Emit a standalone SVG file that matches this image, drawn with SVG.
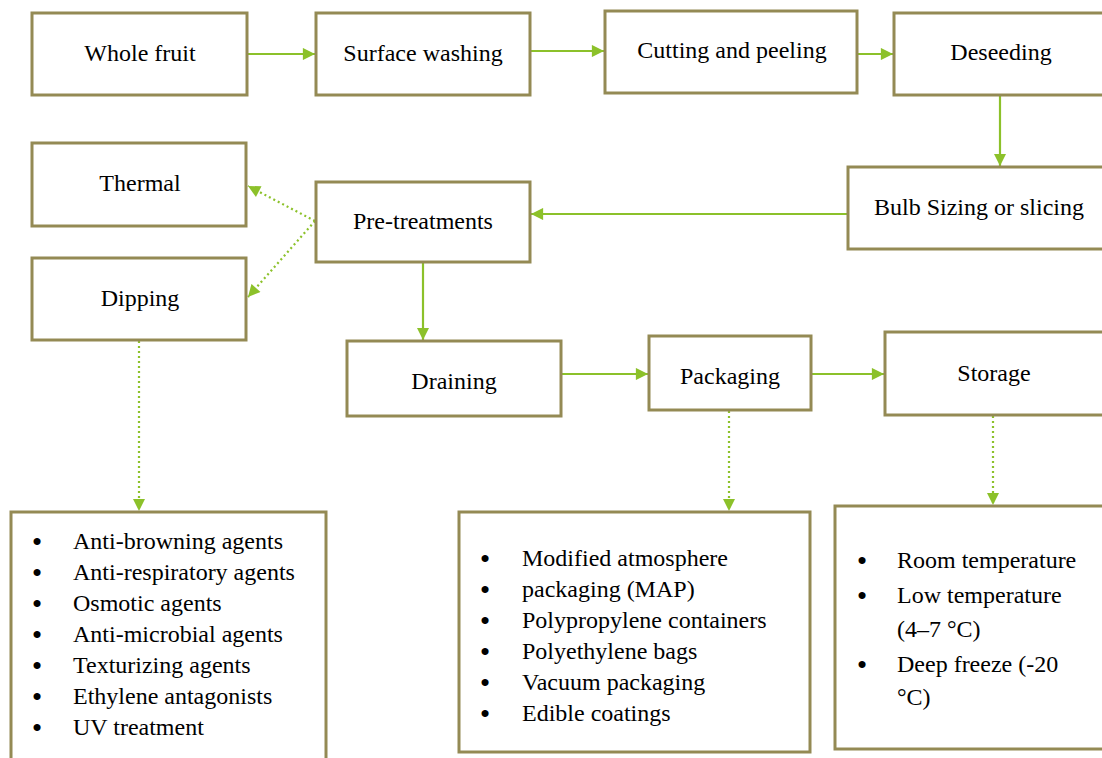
<svg xmlns="http://www.w3.org/2000/svg" width="1102" height="758" viewBox="0 0 1102 758">
<style>
.box{fill:#fff;stroke:#948a54;stroke-width:3}
text{font-family:'Liberation Serif','DejaVu Serif','Times New Roman',serif;font-size:24px;fill:#000}
.c{text-anchor:middle}
.b{font-size:26px;font-weight:bold;text-anchor:middle}
.ln{stroke:#8cc12a;stroke-width:2.2;fill:none}
.dot{stroke:#8cc12a;stroke-width:2.2;fill:none;stroke-dasharray:2 3}
</style>
<defs>
<marker id="ah" viewBox="0 0 10 10" refX="10" refY="5" markerWidth="6" markerHeight="5.5" orient="auto" markerUnits="strokeWidth">
<path d="M0,0 L10,5 L0,10 z" fill="#8cc12a"/>
</marker>
</defs>
<rect width="1102" height="758" fill="#fff"/>
<g id="connectors">
<line class="ln" x1="247" y1="54" x2="315" y2="54" marker-end="url(#ah)"/>
<line class="ln" x1="530" y1="51" x2="604" y2="51" marker-end="url(#ah)"/>
<line class="ln" x1="857" y1="54" x2="893" y2="54" marker-end="url(#ah)"/>
<line class="ln" x1="1000" y1="95" x2="1000" y2="166" marker-end="url(#ah)"/>
<line class="ln" x1="853" y1="214" x2="531" y2="214" marker-end="url(#ah)"/>
<line class="ln" x1="423" y1="262" x2="423" y2="340" marker-end="url(#ah)"/>
<line class="ln" x1="561" y1="374" x2="648" y2="374" marker-end="url(#ah)"/>
<line class="ln" x1="811" y1="374" x2="884" y2="374" marker-end="url(#ah)"/>
<line class="dot" x1="315" y1="221" x2="248" y2="186" marker-end="url(#ah)"/>
<line class="dot" x1="315" y1="221" x2="248" y2="297" marker-end="url(#ah)"/>
<line class="dot" x1="139" y1="341" x2="139" y2="511" marker-end="url(#ah)"/>
<line class="dot" x1="729" y1="411" x2="729" y2="511" marker-end="url(#ah)"/>
<line class="dot" x1="993" y1="416" x2="993" y2="505" marker-end="url(#ah)"/>
</g>
<g id="whole-fruit"><rect class="box" x="32" y="13" width="215" height="82"/><text class="c" x="140" y="61">Whole fruit</text></g>
<g id="surface-washing"><rect class="box" x="316" y="13" width="214" height="82"/><text class="c" x="423" y="61">Surface washing</text></g>
<g id="cutting-peeling"><rect class="box" x="605" y="11" width="252" height="82"/><text class="c" x="732" y="58">Cutting and peeling</text></g>
<g id="deseeding"><rect class="box" x="894" y="13" width="215" height="82"/><text class="c" x="1001" y="60">Deseeding</text></g>
<g id="bulb-sizing"><rect class="box" x="848" y="167" width="260" height="82"/><text x="874" y="215">Bulb Sizing or slicing</text></g>
<g id="thermal"><rect class="box" x="32" y="143" width="214" height="83"/><text class="c" x="140" y="191">Thermal</text></g>
<g id="pre-treatments"><rect class="box" x="316" y="182" width="214" height="80"/><text class="c" x="423" y="229">Pre-treatments</text></g>
<g id="dipping"><rect class="box" x="32" y="258" width="214" height="82"/><text class="c" x="140" y="306">Dipping</text></g>
<g id="draining"><rect class="box" x="347" y="341" width="214" height="75"/><text class="c" x="454" y="389">Draining</text></g>
<g id="packaging"><rect class="box" x="649" y="336" width="162" height="74"/><text class="c" x="730" y="384">Packaging</text></g>
<g id="storage"><rect class="box" x="885" y="332" width="222" height="83"/><text class="c" x="994" y="381">Storage</text></g>
<g id="dipping-agents"><rect class="box" x="11" y="512" width="315" height="256"/>
<text class="b" x="37" y="550">•</text><text x="73" y="549">Anti-browning agents</text>
<text class="b" x="37" y="581">•</text><text x="73" y="580">Anti-respiratory agents</text>
<text class="b" x="37" y="612">•</text><text x="73" y="611">Osmotic agents</text>
<text class="b" x="37" y="643">•</text><text x="73" y="642">Anti-microbial agents</text>
<text class="b" x="37" y="674">•</text><text x="73" y="673">Texturizing agents</text>
<text class="b" x="37" y="705">•</text><text x="73" y="704">Ethylene antagonists</text>
<text class="b" x="37" y="736">•</text><text x="73" y="735">UV treatment</text>
</g>
<g id="packaging-types"><rect class="box" x="459" y="512" width="351" height="240"/>
<text class="b" x="485" y="567">•</text><text x="522" y="566">Modified atmosphere</text>
<text class="b" x="485" y="598">•</text><text x="522" y="597">packaging (MAP)</text>
<text class="b" x="485" y="629">•</text><text x="522" y="628">Polypropylene containers</text>
<text class="b" x="485" y="660">•</text><text x="522" y="659">Polyethylene bags</text>
<text class="b" x="485" y="691">•</text><text x="522" y="690">Vacuum packaging</text>
<text class="b" x="485" y="722">•</text><text x="522" y="721">Edible coatings</text>
</g>
<g id="storage-types"><rect class="box" x="835" y="506" width="275" height="243"/>
<text class="b" x="862" y="569">•</text><text x="897" y="568">Room temperature</text>
<text class="b" x="862" y="604">•</text><text x="897" y="603">Low temperature</text>
<text x="897" y="637">(4–7 °C)</text>
<text class="b" x="862" y="673">•</text><text x="897" y="672">Deep freeze (-20</text>
<text x="897" y="705">°C)</text>
</g>
</svg>
